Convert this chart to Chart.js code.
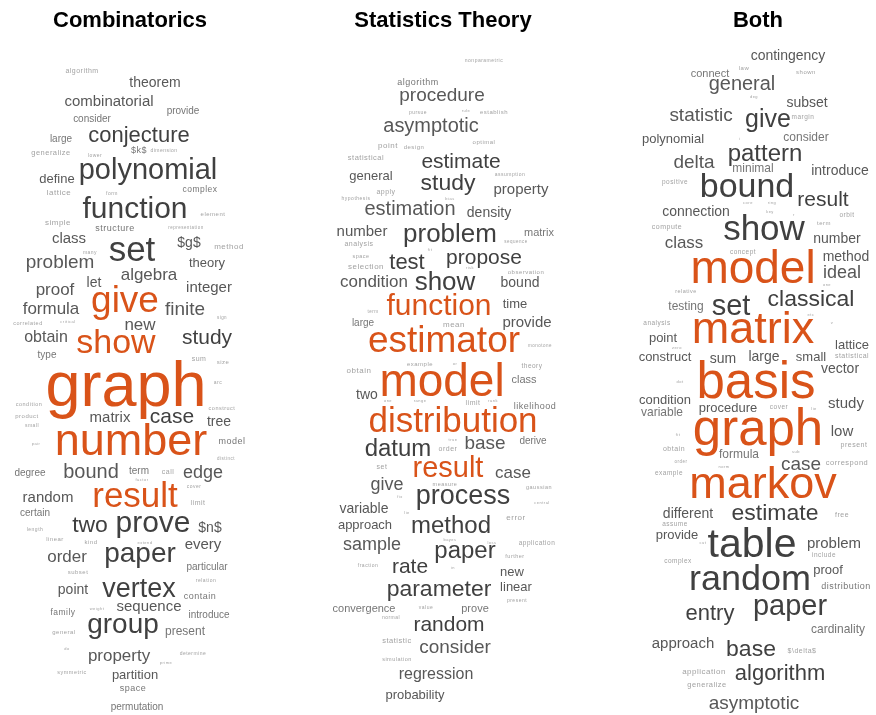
<!DOCTYPE html>
<html>
<head>
<meta charset="utf-8">
<style>
  html, body { margin: 0; padding: 0; background: #fff; }
  #wrap { position: relative; width: 876px; height: 715px; overflow: hidden; }
  .panel { position: absolute; top: 0; }
</style>
</head>
<body>
<div id="wrap">
  <div class="panel" style="left:0"><canvas id="cloudCombo" width="260" height="715"></canvas></div>
  <div class="panel" style="left:296px"><canvas id="cloudStats" width="294" height="715"></canvas></div>
  <div class="panel" style="left:628px"><canvas id="cloudBoth" width="260" height="715"></canvas></div>
</div>
<script src="https://cdn.jsdelivr.net/npm/chart.js@4.4.1/dist/chart.umd.min.js"></script>
<script>
const panelTitles = ['Combinatorics', 'Statistics Theory', 'Both'];

// Combinatorics
const comboWords = ['algorithm','theorem','combinatorial','provide','consider','conjecture','large','generalize','$k$','dimension',
  'lower','polynomial','define','lattice','form','complex','function','element','simple','structure',
  'representation','class','set','$g$','method','many','problem','theory','algebra','let',
  'integer','proof','give','finite','formula','new','correlated','critical','sign','study',
  'show','obtain','type','sum','size','arc','graph','condition','product','construct',
  'matrix','case','tree','small','number','model','pair','distinct','degree','bound',
  'term','call','edge','factor','result','random','cover','limit','certain','two',
  'prove','$n$','length','linear','kind','extend','every','order','paper','particular',
  'subset','relation','point','vertex','contain','family','weight','sequence','introduce','group',
  'general','present','do','property','determine','prime','symmetric','partition','space','permutation'];
const comboX = [-48,25,-21,53,-38,9,-69,-79,9,34, -35,18,-73,-71,-18,70,5,83,-72,-15,
  56,-61,2,59,99,-40,-70,77,19,-36, 79,-75,-5,55,-79,10,-102,-62,92,77,
  -14,-84,-83,69,93,88,-4,-101,-103,92, -20,42,89,-98,1,102,-94,96,-100,-39,
  9,38,73,12,5,-82,64,68,-95,-40, 23,80,-95,-75,-39,15,73,-63,10,77,
  -52,76,-57,9,70,-67,-33,19,79,-7, -66,55,-63,-11,63,36,-58,5,3,7];
const comboY = [31,43,62,71,79,96,99,113,110,110, 115,131,139,153,153,149,170,174,183,188,
  188,199,212,203,207,212,223,223,235,243, 248,250,262,270,269,285,283,282,278,298,
  304,298,315,319,322,343,349,364,376,368, 378,377,382,386,403,401,404,419,433,433,
  431,432,433,440,458,458,447,463,473,486, 484,488,490,499,502,503,505,517,515,527,
  532,541,550,550,557,573,569,567,575,586, 592,592,609,617,614,623,633,636,649,667];
const comboWeight = [7,14,15,10,10,22,10,7.5,9,5, 5,29,13,8,5,8.5,30,6,8,9,
  4.5,15,35,14,8,5,19,13,17,14, 15,17,37,19,17,17,5.5,4,4.5,21,
  34,16,10,7,6,5,63,5.5,6,5.5, 15,21,14,5,45,9,4,4.5,10,20,
  10,7,18,4,35,15,5,7,10,23, 30,14,5,6,6,4,15,17,28,10,
  6,5,14,27,9,8.5,4,15,10,28, 6,12,4,17,5,4,5.5,13,9,10];
const comboHighlight = ['graph', 'number', 'give', 'show', 'result'];

// Statistics Theory
const statsWords = ['nonparametric','algorithm','procedure','pursue','rule','establish','asymptotic','point','design','optimal',
  'statistical','estimate','general','assumption','study','apply','hypothesis','bias','property','estimation',
  'density','number','problem','matrix','analysis','fit','sequence','space','test','propose',
  'selection','risk','observation','condition','show','bound','function','time','term','large',
  'mean','provide','estimator','monotone','obtain','example','or','theory','class','model',
  'two','one','range','limit','rank','likelihood','distribution','datum','order','true',
  'base','derive','result','set','case','give','measure','gaussian','process','fix',
  'central','variable','lie','error','approach','method','application','bayes','loss','sample',
  'paper','further','fraction','rate','in','new','parameter','linear','present','convergence',
  'value','prove','normal','random','statistic','consider','simulation','regression','probability'];
const statsX = [41,-25,-1,-25,23,51,-12,-55,-29,41, -77,18,-72,67,5,-57,-87,7,78,-33,
  46,-81,7,96,-84,-13,73,-82,-36,41, -77,27,83,-69,2,77,-4,72,-70,-80,
  11,84,1,97,-84,-23,12,89,81,-1, -76,-55,-23,30,50,92,10,-45,5,10,
  42,90,5,-61,70,-56,2,96,20,-43, 99,-79,-36,73,-78,8,94,7,49,-71,
  22,72,-75,-33,10,69,-4,73,74,-79, -17,32,-52,6,-46,12,-46,-7,-28];
const statsY = [20,42,56,72,71,72,86,106,107,102, 118,122,136,134,144,152,158,159,150,170,
  173,192,195,193,204,210,202,216,223,218, 227,228,232,242,243,243,267,264,272,283,
  285,283,302,306,331,324,324,326,340,344, 355,361,361,363,361,366,383,410,409,400,
  404,401,429,427,433,445,444,447,457,457, 463,469,473,478,486,487,503,500,503,505,
  512,516,526,527,528,533,550,548,561,569, 568,569,578,585,601,608,620,635,656];
const statsWeight = [5,9,19,5,4,6,20,8,6,6, 7.5,21,13,5,23,7,5,4,15,20,
  14,15,26,11,7,4,4.5,5.5,22,21, 8,4,6,17,26,14,30,13,4.5,10,
  8,15,37,4.5,8,6,4,6.5,11,46, 14,4,4,7,4,9,35,24,7,4,
  19,10,29,7,17,18,5.5,5.5,27,4, 4,14,4,8,13,24,6.5,4,4,18,
  24,5.5,5,21,4,13,23,13,5,11, 5,11,5,21,7.5,19,5.5,16,13];
const statsHighlight = ['function', 'estimator', 'model', 'distribution', 'result'];

// Both
const bothWords = ['contingency','connect','law','shown','general','deg','subset','statistic','give','margin',
  'polynomial','i','consider','pattern','delta','minimal','introduce','positive','bound','result',
  'connection','core','ring','orbit','key','r','compute','show','term','number',
  'class','concept','method','model','ideal','relative','one','testing','set','classical',
  'etc','analysis','matrix','v','point','lattice','zero','statistical','construct','sum',
  'large','small','vector','basis','dot','condition','procedure','cover','lie','study',
  'variable','graph','low','fit','present','obtain','formula','sub','order','norm',
  'case','correspond','example','markov','different','estimate','free','assume','provide','table',
  'problem','cut','include','complex','random','proof','distribution','entry','paper','cardinality',
  'approach','base','$\\delta$','application','algorithm','generalize','asymptotic'];
const bothX = [30,-48,-14,48,-16,-4,49,-57,10,45, -85,-18,48,7,-64,-5,82,-83,-11,65,
  -62,-10,14,89,12,36,-91,6,66,79, -74,-15,88,-5,84,-72,69,-72,-27,53,
  53,-101,-5,74,-95,94,-81,94,-93,-35, 6,53,82,-2,-78,-93,-30,21,56,88,
  -96,0,84,-80,96,-84,-19,38,-77,-34, 43,89,-89,5,-70,17,84,-83,-81,-6,
  76,-55,66,-80,-8,70,88,-48,32,80, -75,-7,44,-54,22,-51,-4];
const bothY = [16,34,28,32,44,57,63,76,80,77, 99,99,98,114,123,129,131,142,148,160,
  172,163,163,175,172,175,187,191,183,199, 203,212,217,231,233,251,245,267,267,260,
  275,283,291,283,298,305,308,316,317,319, 317,317,329,345,342,360,368,367,369,364,
  373,392,392,395,405,409,415,412,422,427, 425,423,433,446,474,474,475,484,496,506,
  504,503,515,521,541,531,547,574,567,590, 604,610,611,632,634,645,664];
const bothWeight = [14,11,6,6,20,4,14,19,25,6.5, 13,4,12,24,19,12,14,6.5,34,21,
  14,4,4,6.5,4,4,7,35,6,14, 17,6.5,14,46,18,5.5,4,12,29,23,
  4,6.5,45,4,13,13,4,7,13,14, 14,13,14,51,4,13,13,6.5,4,15,
  12,51,15,4,7,7,12,4,4.5,4, 19,7.5,6.5,45,14,23,7,6.5,13,41,
  15,4,6.5,6.5,36,13,9,22,29,12, 15,23,7,8,22,7.5,19];
const bothHighlight = ['model', 'matrix', 'basis', 'graph', 'markov'];

const FONT = '"Liberation Sans", Arial, Helvetica, sans-serif';
const LAYOUT_HEIGHT = 675;

function wordColor(word, size, highlight) {
  if (highlight.includes(word)) return '#d95319';
  if (size >= 20) return '#404040';
  if (size >= 12) return '#585858';
  if (size >= 8) return '#767676';
  return '#a2a2a2';
}

const wordPlugin = {
  id: 'wordText',
  afterDatasetsDraw(chart) {
    const ctx = chart.ctx;
    const ds = chart.data.datasets[0];
    const meta = chart.getDatasetMeta(0);
    const k = chart.chartArea.height / LAYOUT_HEIGHT;
    ctx.save();
    ctx.textAlign = 'center';
    ctx.textBaseline = 'alphabetic';
    meta.data.forEach((pt, i) => {
      const size = ds.weights[i] * k;
      ctx.font = `${size}px ${FONT}`;
      if ('letterSpacing' in ctx) ctx.letterSpacing = size < 9 ? '0.5px' : '0px';
      ctx.fillStyle = wordColor(ds.words[i], size, ds.highlight);
      ctx.fillText(ds.words[i], pt.x, pt.y + 0.26 * size);
    });
    ctx.restore();
  }
};

function makeCloud(canvasId, title, words, xs, ys, weights, highlight) {
  const canvas = document.getElementById(canvasId);
  const half = canvas.width / 2;
  return new Chart(canvas, {
    type: 'scatter',
    data: {
      datasets: [{
        data: words.map((w, i) => ({ x: xs[i], y: ys[i] })),
        words,
        weights,
        highlight,
        pointRadius: 0,
        pointHoverRadius: 0
      }]
    },
    options: {
      responsive: false,
      animation: false,
      events: [],
      layout: { padding: 0 },
      clip: false,
      scales: {
        x: { type: 'linear', min: -half, max: half, display: false },
        y: { type: 'linear', min: 0, max: LAYOUT_HEIGHT, reverse: true, display: false }
      },
      plugins: {
        legend: { display: false },
        tooltip: { enabled: false },
        title: {
          display: true,
          text: title,
          color: '#000',
          font: { family: FONT, size: 22, weight: 'bold' },
          padding: { top: 8, bottom: 6 }
        }
      }
    },
    plugins: [wordPlugin]
  });
}

makeCloud('cloudCombo', panelTitles[0], comboWords, comboX, comboY, comboWeight, comboHighlight);
makeCloud('cloudStats', panelTitles[1], statsWords, statsX, statsY, statsWeight, statsHighlight);
makeCloud('cloudBoth', panelTitles[2], bothWords, bothX, bothY, bothWeight, bothHighlight);
</script>
</body>
</html>
